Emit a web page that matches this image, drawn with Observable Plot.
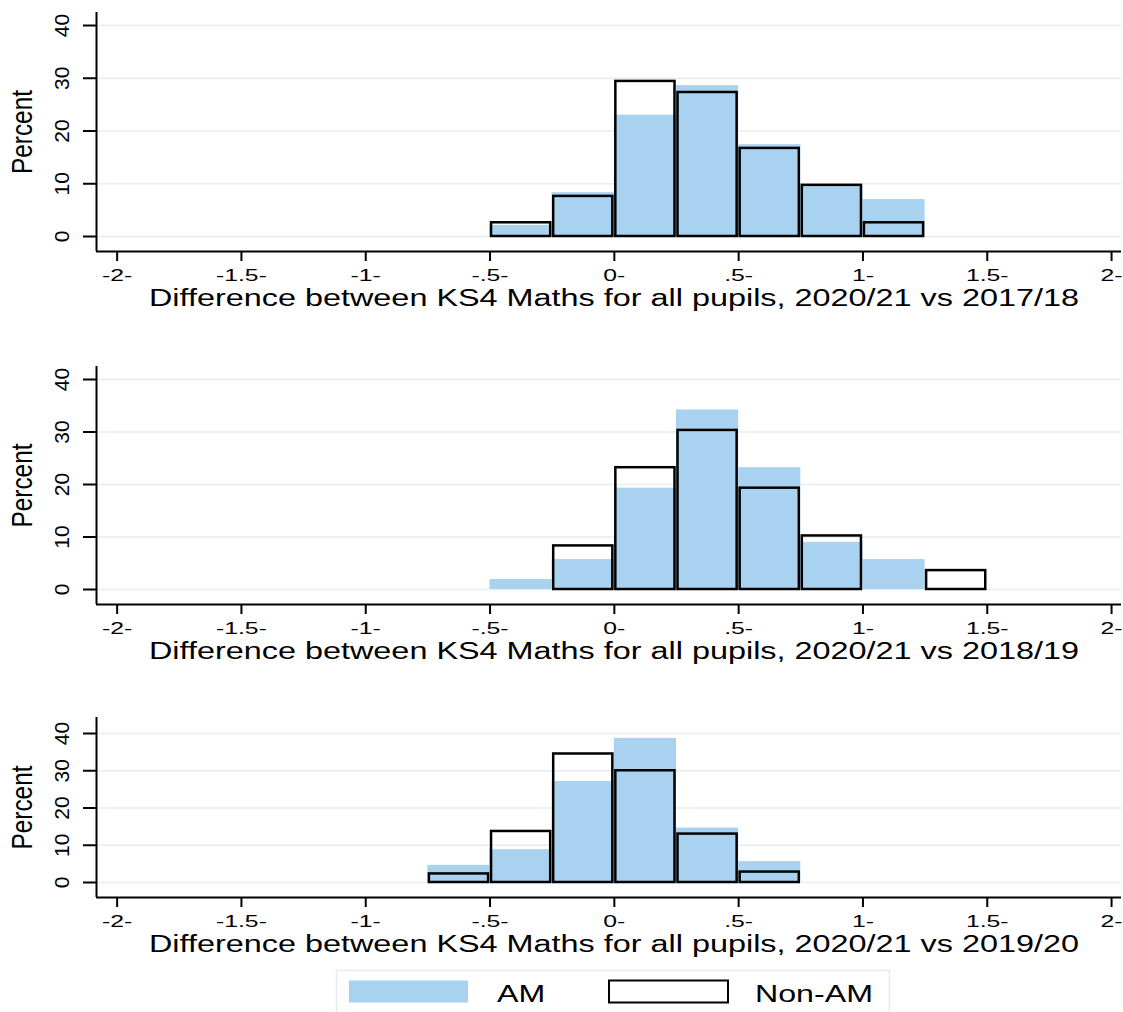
<!DOCTYPE html>
<html>
<head>
<meta charset="utf-8">
<script src="https://cdn.jsdelivr.net/npm/d3@7"></script>
<script src="https://cdn.jsdelivr.net/npm/@observablehq/plot@0.6"></script>
<style>
  body { margin: 0; background: #fff; }
  #chart { width: 1123px; }
  #chart svg { display: block; }
</style>
</head>
<body>
<div id="chart"></div>
<script>
// Histogram bins: left edges, each 0.25 wide (percent of schools per bin)
const binStarts = [-0.75, -0.5, -0.25, 0, 0.25, 0.5, 0.75, 1, 1.25];
const binWidth = 0.25;

// 2020/21 vs 2017/18
const am1718    = [null, 2.1, 8.3, 23.0, 28.6, 17.4, 9.6, 7.0, null];
const nonAm1718 = [null, 2.6, 7.6, 29.4, 27.3, 16.7, 9.7, 2.6, null];
// 2020/21 vs 2018/19
const am1819    = [null, 1.9, 5.7, 19.3, 34.2, 23.2, 9.0, 5.7, null];
const nonAm1819 = [null, null, 8.3, 23.2, 30.3, 19.3, 10.2, null, 3.6];
// 2020/21 vs 2019/20
const am1920    = [4.6, 8.8, 27.1, 38.7, 14.6, 5.6, null, null, null];
const nonAm1920 = [2.3, 13.7, 34.5, 30.0, 13.0, 2.8, null, null, null];

const xTicks = [-2, -1.5, -1, -0.5, 0, 0.5, 1, 1.5, 2];
const xTickLabels = ["-2-", "-1.5-", "-1-", "-.5-", "0-", ".5-", "1-", "1.5-", "2-"];
const yTicks = [0, 10, 20, 30, 40];
const yLabel = "Percent";
const panelTitles = [
  "Difference between KS4 Maths for all pupils, 2020/21 vs 2017/18",
  "Difference between KS4 Maths for all pupils, 2020/21 vs 2018/19",
  "Difference between KS4 Maths for all pupils, 2020/21 vs 2019/20"
];
const groups = ["AM", "Non-AM"];

const FONT = "'Liberation Sans', Arial, Helvetica, sans-serif";
const BLUE = "#a8d2f0";
const GRID = "#e6eef1";
const X_DOMAIN = [-2.083, 2.04];

function bins(values) {
  return binStarts
    .map((x1, i) => ({x1, x2: x1 + binWidth, pct: values[i]}))
    .filter(d => d.pct != null);
}

function panel({am, nonAm, title, height, marginTop, marginBottom, insetTop, insetBottom}) {
  return Plot.plot({
    width: 1123,
    height,
    marginTop,
    marginBottom,
    marginLeft: 96,
    marginRight: 2,
    style: {fontFamily: FONT, fontSize: "16px", background: "#fff", color: "#000"},
    x: {domain: X_DOMAIN},
    y: {domain: [0, 40], insetTop, insetBottom},
    marks: [
      Plot.gridY(yTicks, {stroke: GRID, strokeOpacity: 1, strokeWidth: 1.5}),
      Plot.rect(bins(am), {x1: "x1", x2: "x2", y1: 0, y2: "pct", fill: BLUE}),
      Plot.rect(bins(nonAm), {
        x1: "x1", x2: "x2", y1: 0, y2: "pct",
        fill: "none", stroke: "#000", strokeWidth: 2.5, insetLeft: 1.5, insetRight: 1.5
      }),
      // axis lines along the left and bottom of the plot area
      Plot.ruleX([X_DOMAIN[0]], {stroke: "#000", strokeWidth: 2}),
      Plot.ruleY([0], {dy: insetBottom, stroke: "#000", strokeWidth: 2}),
      // tick marks
      Plot.axisX({ticks: xTicks, tickSize: 10, tickFormat: () => "", strokeWidth: 2, label: null}),
      Plot.axisY({ticks: yTicks, tickSize: 13, tickFormat: () => "", strokeWidth: 2, label: null}),
      // tick labels
      Plot.text(xTicks, {
        x: d => d, frameAnchor: "bottom", dy: 18, lineAnchor: "top", textAnchor: "middle",
        fontSize: 16.5, fill: "#000", text: d => xTickLabels[xTicks.indexOf(d)]
      }),
      Plot.text(yTicks, {
        y: d => d, frameAnchor: "left", dx: -34, rotate: -90, textAnchor: "middle",
        fontSize: 21, fill: "#000", text: d => String(d)
      }),
      // axis titles
      Plot.text([title], {
        frameAnchor: "bottom", dy: 38, dx: 5, lineAnchor: "top", textAnchor: "middle",
        fontSize: 23.3, fill: "#000", text: d => d
      }),
      Plot.text([yLabel], {
        frameAnchor: "left", dx: -74, rotate: -90, textAnchor: "middle",
        fontSize: 29, fill: "#000", text: d => d
      })
    ]
  });
}

// Adjust the run length of text (the lettering here is set wide)
function widen(nodes, k) {
  nodes.forEach(t => {
    const len = t.getComputedTextLength();
    t.setAttribute("textLength", len * k);
    t.setAttribute("lengthAdjust", "spacingAndGlyphs");
  });
}

const chart = document.getElementById("chart");
const specs = [
  {am: am1718, nonAm: nonAm1718, title: panelTitles[0], height: 330, marginTop: 12, marginBottom: 79, insetTop: 13, insetBottom: 15},
  {am: am1819, nonAm: nonAm1819, title: panelTitles[1], height: 350, marginTop: 36, marginBottom: 76, insetTop: 13, insetBottom: 15},
  {am: am1920, nonAm: nonAm1920, title: panelTitles[2], height: 280, marginTop: 37, marginBottom: 63, insetTop: 16, insetBottom: 15}
];
for (const s of specs) {
  const svg = panel(s);
  chart.appendChild(svg);
  const textGroups = svg.querySelectorAll('g[aria-label="text"]');
  widen(textGroups[0].querySelectorAll("text"), 1.5);   // x tick labels
  widen(textGroups[2].querySelectorAll("text"), 1.39);  // x title
  widen(textGroups[3].querySelectorAll("text"), 0.84);  // y title
}

// Legend
const leg = d3.create("svg")
  .attr("width", 1123).attr("height", 52)
  .style("display", "block")
  .style("font-family", FONT);
leg.append("rect")
  .attr("x", 336.5).attr("y", 10.5).attr("width", 553).attr("height", 60)
  .attr("fill", "#fff").attr("stroke", "#e3ecee").attr("stroke-width", 1.5);
const keys = [
  {label: groups[0], sx: 349, tx: 497, fill: BLUE, stroke: "none"},
  {label: groups[1], sx: 609, tx: 755, fill: "#fff", stroke: "#000"}
];
for (const k of keys) {
  leg.append("rect")
    .attr("x", k.sx).attr("y", 20.5).attr("width", 119).attr("height", 22)
    .attr("fill", k.fill).attr("stroke", k.stroke).attr("stroke-width", 2);
  leg.append("text")
    .attr("x", k.tx).attr("y", 42)
    .attr("font-size", 23.3).attr("fill", "#000")
    .text(k.label);
}
chart.appendChild(leg.node());
widen(leg.node().querySelectorAll("text"), 1.38);
</script>
</body>
</html>
